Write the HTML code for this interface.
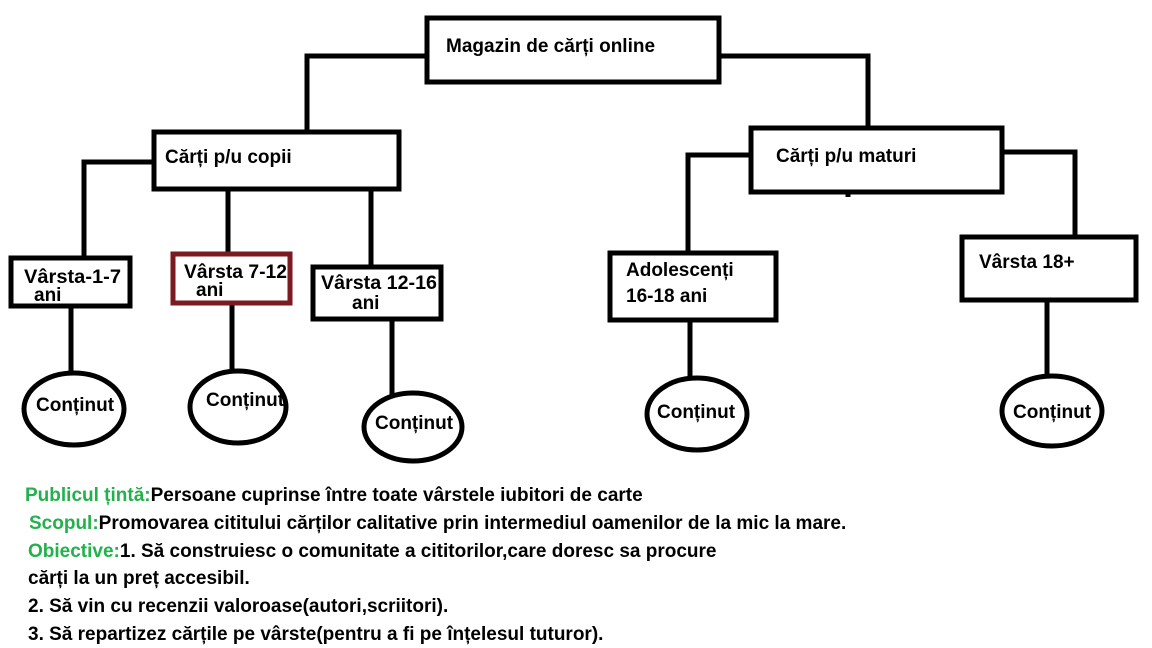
<!DOCTYPE html>
<html><head><meta charset="utf-8"><style>
body{margin:0;background:#fff;width:1152px;height:648px;overflow:hidden}
svg{display:block}
text{font-family:"Liberation Sans",sans-serif;font-weight:bold;font-size:19px;fill:#000}
.g{fill:#22b14c}
</style></head><body>
<svg width="1152" height="648" viewBox="0 0 1152 648">
<g fill="none" stroke="#000" stroke-width="5">
<rect x="427" y="18" width="292" height="64"/>
<polyline points="427,56 307,56 307,132"/>
<polyline points="719,56 868,56 868,128"/>
<rect x="154" y="132" width="245" height="57"/>
<polyline points="154,162 84,162 84,258"/>
<line x1="228" y1="189" x2="228" y2="253"/>
<line x1="371" y1="189" x2="371" y2="266"/>
<rect x="11" y="258" width="119" height="48"/>
<rect x="313" y="267" width="128" height="52"/>
<line x1="71" y1="306" x2="71" y2="373"/>
<line x1="232" y1="303" x2="232" y2="370"/>
<line x1="392" y1="319" x2="392" y2="397"/>
<ellipse cx="74" cy="409" rx="50" ry="36"/>
<ellipse cx="238" cy="407" rx="48" ry="36"/>
<ellipse cx="413" cy="427" rx="49" ry="34"/>
<rect x="751" y="128" width="251" height="64"/>
<line x1="848" y1="192" x2="848" y2="197"/>
<polyline points="751,155 688,155 688,253"/>
<polyline points="1002,152 1075,152 1075,237"/>
<rect x="610" y="253" width="166" height="67"/>
<rect x="962" y="237" width="174" height="63"/>
<line x1="690" y1="320" x2="690" y2="380"/>
<line x1="1047" y1="300" x2="1047" y2="378"/>
<ellipse cx="697" cy="414" rx="50" ry="36"/>
<ellipse cx="1052" cy="411" rx="50" ry="35"/>
</g>
<rect x="173" y="254" width="117" height="49" fill="none" stroke="#7b1a21" stroke-width="5"/>
<text x="446" y="52">Magazin de cărți online</text>
<text x="165" y="163">Cărți p/u copii</text>
<text x="776" y="162">Cărți p/u maturi</text>
<text x="24" y="283" textLength="97" lengthAdjust="spacingAndGlyphs">Vârsta-1-7</text>
<text x="34" y="301">ani</text>
<text x="184" y="278" textLength="103" lengthAdjust="spacingAndGlyphs">Vârsta 7-12</text>
<text x="196" y="296">ani</text>
<text x="321" y="289" textLength="116" lengthAdjust="spacingAndGlyphs">Vârsta 12-16</text>
<text x="352" y="309">ani</text>
<text x="626" y="276">Adolescenți</text>
<text x="626" y="302">16-18 ani</text>
<text x="979" y="268">Vârsta 18+</text>
<text x="36" y="411">Conținut</text>
<text x="206" y="406">Conținut</text>
<text x="375" y="429">Conținut</text>
<text x="657" y="418">Conținut</text>
<text x="1013" y="418">Conținut</text>
<text x="25" y="501"><tspan class="g">Publicul țintă:</tspan>Persoane cuprinse între toate vârstele iubitori de carte</text>
<text x="29" y="529"><tspan class="g">Scopul:</tspan>Promovarea cititului cărților calitative prin intermediul oamenilor de la mic la mare.</text>
<text x="28" y="557"><tspan class="g">Obiective:</tspan>1. Să construiesc o comunitate a cititorilor,care doresc sa procure</text>
<text x="28" y="584">cărți la un preț accesibil.</text>
<text x="28" y="612">2. Să vin cu recenzii valoroase(autori,scriitori).</text>
<text x="28" y="640">3. Să repartizez cărțile pe vârste(pentru a fi pe înțelesul tuturor).</text>
</svg>
</body></html>
